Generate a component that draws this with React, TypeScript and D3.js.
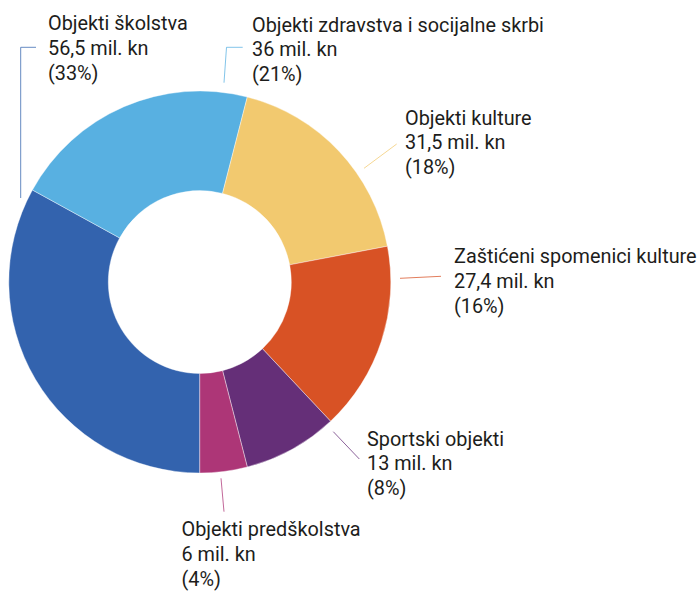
import React from 'react';
import * as d3 from 'd3';

// categories, amounts (mil. kn) and shares (%)
const categories = [
  'Objekti školstva',
  'Objekti zdravstva i socijalne skrbi',
  'Objekti kulture',
  'Zaštićeni spomenici kulture',
  'Sportski objekti',
  'Objekti predškolstva',
];
const amounts = [56.5, 36, 31.5, 27.4, 13, 6];
const shares = [33, 21, 18, 16, 8, 4];
const colors = ['#3363ae', '#58b0e1', '#f2c96f', '#d85225', '#652f78', '#ad3677'];

// label placement: text anchor (first baseline) and leader line points
const labelLayout = [
  { x: 48, y: 30, line: [[20.7, 198], [20.7, 47.3], [36, 47.3]] },
  { x: 252, y: 31.5, line: [[224, 82.7], [226.5, 47.3], [242.7, 47.3]] },
  { x: 405, y: 124.5, line: [[364, 168.3], [396.7, 144]] },
  { x: 454, y: 263.3, line: [[400, 278.3], [441, 276.3]] },
  { x: 367, y: 445.5, line: [[333.3, 431.7], [359.3, 459]] },
  { x: 181.5, y: 536.3, line: [[221, 478.3], [224, 511.7]] },
];

const width = 700;
const height = 591;
const cx = 199.8;
const cy = 282;
const outerR = 191;
const innerR = 91.5;
const lineHeight = 25;
const squeeze = 0.945; // the original face is narrower than Roboto

const fmt = (v: number) => String(v).replace('.', ',');

const App: React.FC = () => {
  const pie = d3
    .pie<number>()
    .sort(null)
    .value((d) => d)
    .startAngle(Math.PI)
    .endAngle(3 * Math.PI);
  const arcs = pie(shares);
  const arc = d3.arc<d3.PieArcDatum<number>>().innerRadius(innerR).outerRadius(outerR);
  const lineGen = d3.line();

  return (
    <svg
      width={width}
      height={height}
      style={{ position: 'absolute', left: 0, top: 0, background: '#fff' }}
      fontFamily="Roboto, 'Noto Sans', sans-serif"
    >
      <g transform={`translate(${cx},${cy})`}>
        {arcs.map((a, i) => (
          <path key={i} d={arc(a) ?? ''} fill={colors[i]} stroke="#fff" strokeWidth={0.4} />
        ))}
      </g>
      {labelLayout.map((l, i) => (
        <g key={i}>
          <path
            d={lineGen(l.line as [number, number][]) ?? ''}
            fill="none"
            stroke={colors[i]}
            strokeOpacity={0.75}
            strokeWidth={1}
          />
          <g transform={`translate(${l.x},${l.y}) scale(${squeeze},1)`}>
            <text fontSize={21} fill="#1d1d1b">
              <tspan x={0} y={0}>{categories[i]}</tspan>
              <tspan x={0} dy={lineHeight}>{`${fmt(amounts[i])} mil. kn`}</tspan>
              <tspan x={0} dy={lineHeight}>{`(${shares[i]}%)`}</tspan>
            </text>
          </g>
        </g>
      ))}
    </svg>
  );
};

export default App;
